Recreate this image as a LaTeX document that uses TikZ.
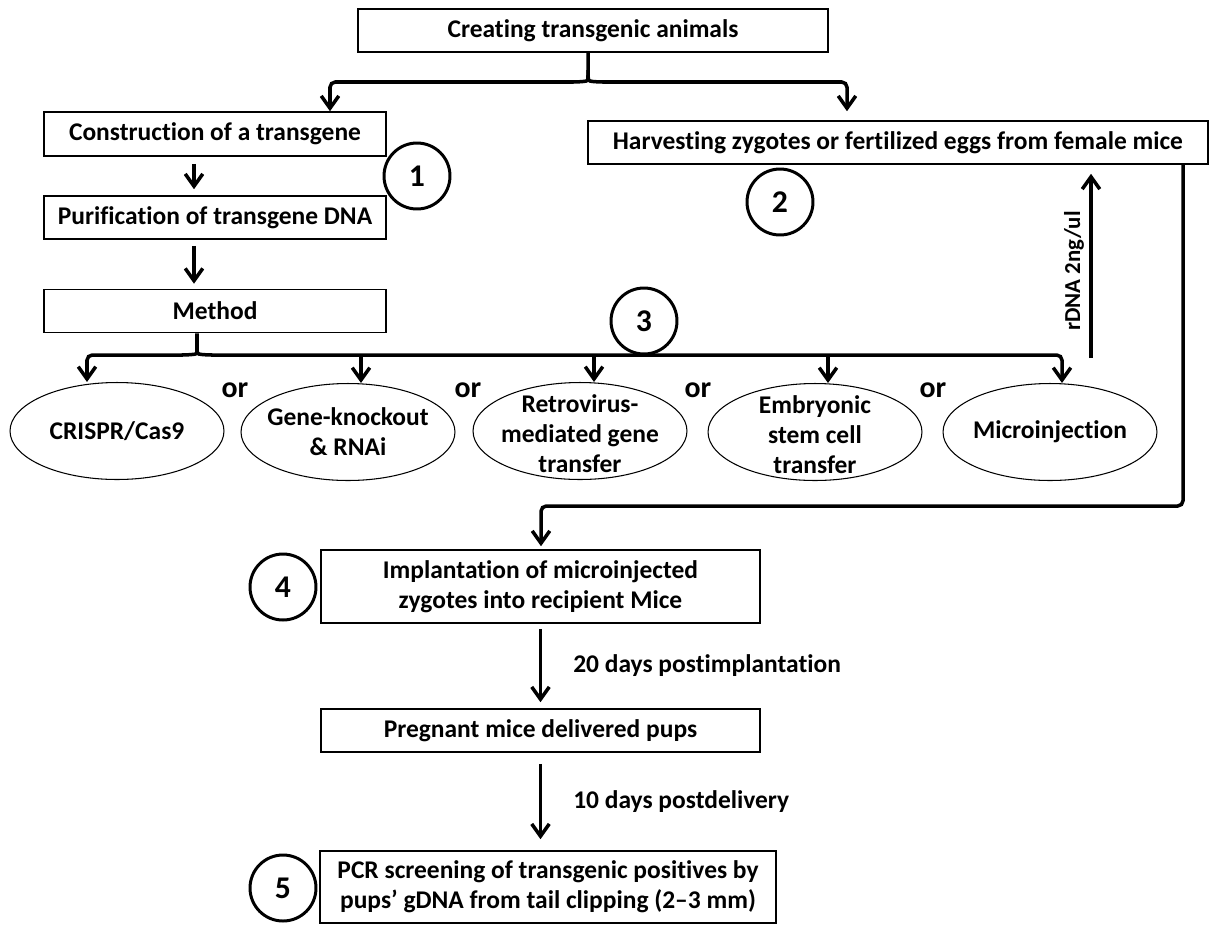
\documentclass[tikz,border=0pt]{standalone}
\usepackage{fontspec}
\setmainfont{Carlito}[Ligatures=NoCommon]
\usepackage{tikz}
\usetikzlibrary{arrows,arrows.meta,shapes.geometric}
\tikzstyle{caixa}=[rectangle, draw=black, line width=0.9pt, inner sep=0pt, align=center, font=\bfseries\fontsize{14.5}{17}\selectfont]
\tikzstyle{elipse}=[ellipse, draw=black, line width=0.6pt, minimum width=4.28cm, minimum height=1.94cm, inner sep=0pt]
\tikzstyle{texto}=[align=center, inner sep=0pt, font=\bfseries\fontsize{14.5}{17}\selectfont]
\tikzstyle{numero}=[circle, draw=black, line width=1.7pt, minimum size=1.32cm, inner sep=0pt, font=\bfseries\fontsize{18}{20}\selectfont]
\tikzstyle{ou}=[inner sep=0pt, font=\bfseries\fontsize{17}{20}\selectfont]
\tikzstyle{seta}=[line width=2pt, -{Straight Barb[length=7pt,width=10pt]}]

\begin{document}
\begin{tikzpicture}[x=0.02cm, y=-0.02cm]
			\useasboundingbox (0,0) rectangle (1210,924);
			% caixas
			\node[caixa, minimum width=9.4cm, minimum height=0.86cm] (t) at (593,30.5) {Creating transgenic animals};
			\node[caixa, minimum width=6.84cm, minimum height=0.88cm] (b1) at (215,134) {Construction of a transgene};
			\node[caixa, minimum width=6.84cm, minimum height=0.86cm] (b2) at (215,217.5) {Purification of transgene DNA};
			\node[caixa, minimum width=6.84cm, minimum height=0.86cm] (m) at (215,311) {Method};
			\node[caixa, minimum width=12.4cm, minimum height=0.86cm] (h) at (898,142.5) {Harvesting zygotes or fertilized eggs from female mice};
			\node[caixa, minimum width=8.78cm, minimum height=1.46cm] (b4) at (540.5,586.5) {Implantation of microinjected\\zygotes into recipient Mice};
			\node[caixa, minimum width=8.78cm, minimum height=0.86cm] (b5) at (540.5,730.5) {Pregnant mice delivered pups};
			\node[caixa, minimum width=9.12cm, minimum height=1.44cm] (b6) at (548,887) {PCR screening of transgenic positives by\\pups’ gDNA from tail clipping (2--3 mm)};
			% metodos
			\node[elipse] (e1) at (117,431) {};
			\node[elipse] (e2) at (348,432) {};
			\node[elipse] (e3) at (580,431) {};
			\node[elipse] (e4) at (815,432) {};
			\node[elipse] (e5) at (1050,432) {};
			\node[texto] (t1) at (e1) {CRISPR/Cas9};
			\node[texto] (t2) at (e2) {Gene-knockout\\\& RNAi};
			\node[texto] (t3) at ([yshift=-0.06cm]e3) {Retrovirus-\\mediated gene\\transfer};
			\node[texto] (t4) at ([yshift=-0.06cm]e4) {Embryonic\\stem cell\\transfer};
			\node[texto] (t5) at (e5) {Microinjection};
			\node[ou] (o1) at (235,390) {or};
			\node[ou] (o2) at (468,390) {or};
			\node[ou] (o3) at (698,390) {or};
			\node[ou] (o4) at (933,390) {or};
			% etapas
			\node[numero] (n1) at (417,176) {1};
			\node[numero] (n2) at (780,202) {2};
			\node[numero] (n3) at (644,321) {3};
			\node[numero] (n4) at (283,587) {4};
			\node[numero] (n5) at (283,888) {5};
			% chaves
			\coordinate (k0) at (588,70);
			\coordinate (k1) at (330,82);
			\coordinate (k2) at (847,82);
			\draw[seta, rounded corners=3pt] (t.south -| k0) -- (k0) .. controls (588,81) .. (578,82) -- (k1) -- (k1 |- b1.north);
			\draw[seta, rounded corners=3pt, shorten >=0.18cm] (k0) .. controls (588,81) .. (598,82) -- (k2) -- (k2 |- h.north);
			\coordinate (k3) at (197,345);
			\coordinate (a1) at (87,355);
			\coordinate (a2) at (361,355);
			\coordinate (a3) at (594,355);
			\coordinate (a4) at (828,355);
			\coordinate (a5) at (1062,355);
			\draw[seta, rounded corners=3pt] (m.south -| k3) -- (k3) .. controls (197,354) .. (187,355) -- (a1) -- (a1 |- e1.north);
			\draw[seta, rounded corners=3pt] (k3) .. controls (197,354) .. (207,355) -- (a5) -- (a5 |- e5.north);
			\draw[seta] (a2) -- (a2 |- e2.north);
			\draw[seta] (a3) -- (a3 |- e3.north);
			\draw[seta] (a4) -- (a4 |- e4.north);
			% setas
			\draw[seta, shorten <=0.14cm, shorten >=0.12cm] ([xshift=-0.42cm]b1.south) -- ([xshift=-0.42cm]b2.north);
			\draw[seta, shorten <=0.12cm, shorten >=0.1cm] ([xshift=-0.42cm]b2.south) -- ([xshift=-0.42cm]m.north);
			\coordinate (r1) at (1091,358);
			\draw[seta, shorten >=0.18cm] (r1) -- (r1 |- h.south) node[pos=0.45, sloped, above, inner sep=3pt, font=\bfseries\fontsize{13}{15}\selectfont] {rDNA 2ng/ul};
			\coordinate (q1) at (1183,506);
			\coordinate (q2) at (541,506);
			\draw[seta, rounded corners=3pt, shorten >=0.06cm] (h.south -| q1) -- (q1) -- (q2) -- (q2 |- b4.north);
			\draw[seta, shorten <=0.1cm, shorten >=0.12cm] (b4.south) -- (b5.north) node[midway, right, xshift=0.62cm, texto] {20 days postimplantation};
			\draw[seta, shorten <=0.22cm, shorten >=0.22cm] (b5.south) -- (b5.south |- b6.north) node[midway, right, xshift=0.62cm, texto] {10 days postdelivery};
		\end{tikzpicture}
\end{document}
